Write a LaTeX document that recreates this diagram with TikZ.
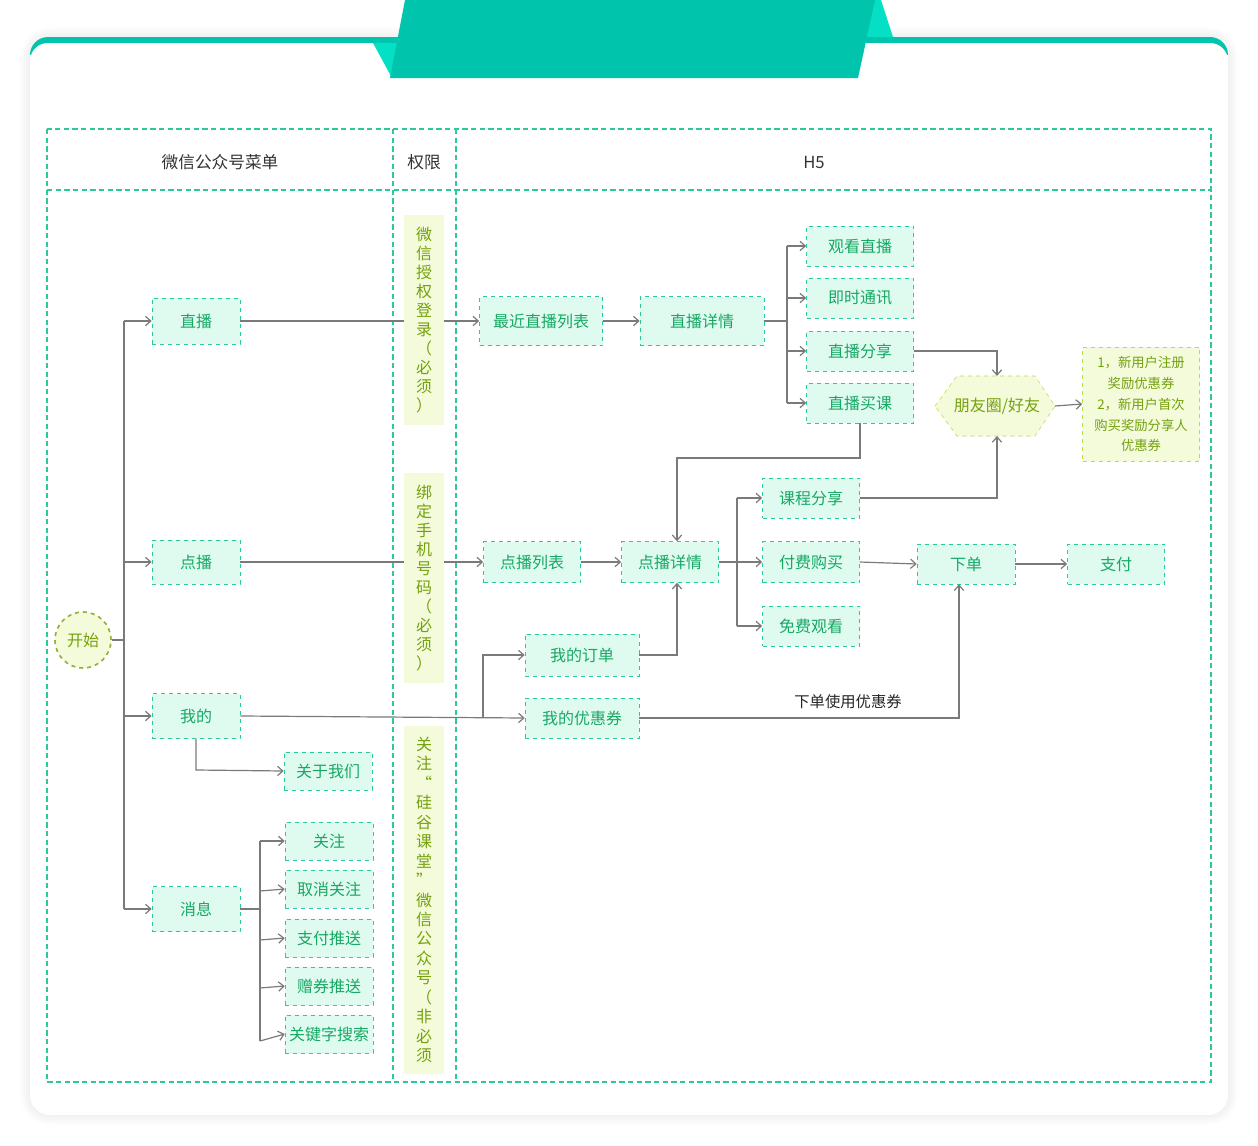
\documentclass[tikz,border=0pt]{standalone}
\usepackage{fontspec}
\setmainfont{Noto Sans CJK SC}
\usetikzlibrary{shapes.geometric,arrows.meta,shadows.blur}
\definecolor{teal}{HTML}{00C4AB}
\definecolor{teallt}{HTML}{05E0C4}
\definecolor{gbd}{HTML}{2CC99E}
\definecolor{gfill}{HTML}{DFFBF0}
\definecolor{gtxt}{HTML}{17A864}
\definecolor{ybd}{HTML}{B9DB45}
\definecolor{yfill}{HTML}{F3FBDA}
\definecolor{ytxt}{HTML}{75A10F}
\definecolor{ln}{HTML}{7A7A7A}
\begin{document}
\begin{tikzpicture}[x=0.75pt,y=-0.75pt,
  g/.style={draw=gbd,fill=gfill,dashed,text=gtxt,font=\fontsize{12}{14}\selectfont,inner sep=0pt,minimum height=40*0.75pt},
  yb/.style={draw=ybd,fill=yfill,dashed,text=ytxt,font=\fontsize{12}{14}\selectfont,inner sep=0pt},
  vl/.style={fill=yfill,text=ytxt,font=\fontsize{12}{14.2}\selectfont,align=center,inner sep=0pt,minimum width=40*0.75pt},
  a/.style={draw=ln,line width=0.9pt,-{Straight Barb[length=4pt,width=7pt]}},
  l/.style={draw=ln,line width=0.9pt},
  tb/.style={draw=gbd,line width=1pt,dash pattern=on 4pt off 2.5pt}]
\useasboundingbox (0,0) rectangle (1258,1146);
% card
\fill[white,blur shadow={shadow blur steps=8,shadow xshift=0pt,shadow yshift=0pt,shadow opacity=12,shadow blur radius=8pt}] (30,37) [rounded corners=20*0.75pt] rectangle (1228,1115);
\fill[teal] (30,55) [rounded corners=18*0.75pt] -- (30,37) -- (1228,37) [sharp corners] -- (1228,55) -- cycle;
\fill[white] (30,60) [rounded corners=18*0.75pt] -- (30,43) -- (1228,43) [sharp corners] -- (1228,60) -- cycle;
\fill[white] (30,55) rectangle (1228,80);
\fill[teallt] (373,43) -- (398,43) -- (392,78) -- cycle;
\fill[teallt] (870,0) -- (881,0) -- (893,37) -- (866,37) -- cycle;
\fill[teal] (405,0) -- (875,0) -- (858,78) -- (390,78) -- cycle;
% table
\draw[tb] (47,129) rectangle (1211,1082);
\draw[tb] (47,190) -- (1211,190);
\draw[tb] (393,129) -- (393,1082);
\draw[tb] (456,129) -- (456,1082);
\node[font=\fontsize{12.5}{14}\selectfont,text=black!80] at (220,162) {微信公众号菜单};
\node[font=\fontsize{12.5}{14}\selectfont,text=black!80] at (424,162) {权限};
\node[font=\fontsize{12.5}{14}\selectfont,text=black!80] at (814,162) {H5};
% nodes
\node[circle,draw=ybd!80!black,fill=yfill,dashed,line width=1.2pt,text=ytxt,minimum size=56*0.75pt,inner sep=0pt,font=\fontsize{12}{14}\selectfont] (st) at (83,640) {开始};
\node[g,minimum width=88*0.75pt,minimum height=46*0.75pt] (zb) at (196,321) {直播};
\node[g,minimum width=88*0.75pt,minimum height=44*0.75pt] (db) at (196,562) {点播};
\node[g,minimum width=88*0.75pt,minimum height=45*0.75pt] (wd) at (196,716) {我的};
\node[g,minimum width=88*0.75pt,minimum height=45*0.75pt] (xx) at (196,909) {消息};
\node[g,minimum width=88*0.75pt,minimum height=38*0.75pt] (gy) at (328,771) {关于我们};
\node[g,minimum width=88*0.75pt,minimum height=38*0.75pt] (m1) at (329,841) {关注};
\node[g,minimum width=88*0.75pt,minimum height=38*0.75pt] (m2) at (329,889) {取消关注};
\node[g,minimum width=88*0.75pt,minimum height=38*0.75pt] (m3) at (329,938) {支付推送};
\node[g,minimum width=88*0.75pt,minimum height=38*0.75pt] (m4) at (329,986) {赠券推送};
\node[g,minimum width=88*0.75pt,minimum height=38*0.75pt] (m5) at (329,1034) {关键字搜索};
\node[g,minimum width=123*0.75pt,minimum height=49*0.75pt] (zl) at (541,321) {最近直播列表};
\node[g,minimum width=124*0.75pt,minimum height=49*0.75pt] (zx) at (702,321) {直播详情};
\node[g,minimum width=107*0.75pt] (h1) at (860,246) {观看直播};
\node[g,minimum width=107*0.75pt] (h2) at (860,298) {即时通讯};
\node[g,minimum width=107*0.75pt] (h3) at (860,351) {直播分享};
\node[g,minimum width=107*0.75pt] (h4) at (860,403) {直播买课};
\draw[draw=ybd,fill=yfill,dashed] (935,406) -- (957,376) -- (1035,376) -- (1055,406) -- (1035,436) -- (957,436) -- cycle;
\node[text=ytxt,font=\fontsize{12}{14}\selectfont] (hx) at (997,406) {朋友圈/好友};
\coordinate (hxt) at (997,376);
\coordinate (hxb) at (997,436);
\coordinate (hxr) at (1055,406);
\node[yb,minimum width=117*0.75pt,minimum height=114*0.75pt,align=center,font=\fontsize{10}{15.7}\selectfont] (nt) at (1141,404) {1，新用户注册\\奖励优惠券\\2，新用户首次\\购买奖励分享人\\优惠券};
\node[g,minimum width=97*0.75pt,minimum height=41*0.75pt] (dl) at (532,562) {点播列表};
\node[g,minimum width=97*0.75pt,minimum height=41*0.75pt] (dx) at (670,562) {点播详情};
\node[g,minimum width=97*0.75pt] (k1) at (811,498) {课程分享};
\node[g,minimum width=97*0.75pt,minimum height=41*0.75pt] (k2) at (811,562) {付费购买};
\node[g,minimum width=97*0.75pt] (k3) at (811,626) {免费观看};
\node[g,minimum width=98*0.75pt] (xd) at (966,564) {下单};
\node[g,minimum width=97*0.75pt] (zf) at (1116,564) {支付};
\node[g,minimum width=114*0.75pt,minimum height=42*0.75pt] (dd) at (582,655) {我的订单};
\node[g,minimum width=114*0.75pt] (yh) at (582,718) {我的优惠券};
% connectors
\draw[l] (st.east) -- (124,640);
\draw[l] (124,321) -- (124,909);
\draw[a] (124,321) -- (zb.west);
\draw[a] (124,562) -- (db.west);
\draw[a] (124,716) -- (wd.west);
\draw[a] (124,909) -- (xx.west);
\draw[a] (zb.east) -- (zl.west);
\draw[a] (zl.east) -- (zx.west);
\draw[l] (zx.east) -- (787,321);
\draw[l] (787,246) -- (787,403);
\foreach \n in {h1,h2,h3,h4} \draw[a] (787,0 |- \n.west) -- (\n.west);
\draw[a] (h3.east) -- (997,351) -- (hxt);
\draw[a] (h4.south) -- (860,458) -- (677,458) -- (677,0 |- dx.north);
\draw[a] (k1.east) -- (997,498) -- (hxb);
\draw[a] (hxr) -- (nt.west);
\draw[a] (db.east) -- (dl.west);
\draw[a] (dl.east) -- (dx.west);
\draw[l] (dx.east) -- (737,562);
\draw[l] (737,498) -- (737,626);
\foreach \n in {k1,k2,k3} \draw[a] (737,0 |- \n.west) -- (\n.west);
\draw[a] (k2.east) -- (xd.west);
\draw[a] (xd.east) -- (zf.west);
\draw[a] (wd.east) -- (yh.west);
\draw[a] (483,718) -- (483,655) -- (dd.west);
\draw[a] (dd.east) -- (677,655) -- (677,0 |- dx.south);
\draw[a] (yh.east) -- (959,718) -- (959,0 |- xd.south);
\node[font=\fontsize{11.5}{14}\selectfont,text=black!85] at (848,702) {下单使用优惠券};
\draw[a] (wd.south) -- (196,770) -- (gy.west);
\draw[l] (xx.east) -- (260,909);
\draw[l] (260,841) -- (260,1041);
\draw[a] (260,841) -- (m1.west);
\draw[a] (260,891) -- (m2.west);
\draw[a] (260,940) -- (m3.west);
\draw[a] (260,988) -- (m4.west);
\draw[a] (260,1041) -- (m5.west);
% vertical permission labels
\node[vl,minimum height=210*0.75pt] at (424,320) {微\\信\\授\\权\\登\\录\\（\\必\\须\\）};
\node[vl,minimum height=210*0.75pt] at (424,578) {绑\\定\\手\\机\\号\\码\\（\\必\\须\\）};
\node[vl,minimum height=348*0.75pt,font=\fontsize{12}{14.6}\selectfont] at (424,900) {关\\注\\“\\硅\\谷\\课\\堂\\”\\微\\信\\公\\众\\号\\（\\非\\必\\须};
\end{tikzpicture}
\end{document}
